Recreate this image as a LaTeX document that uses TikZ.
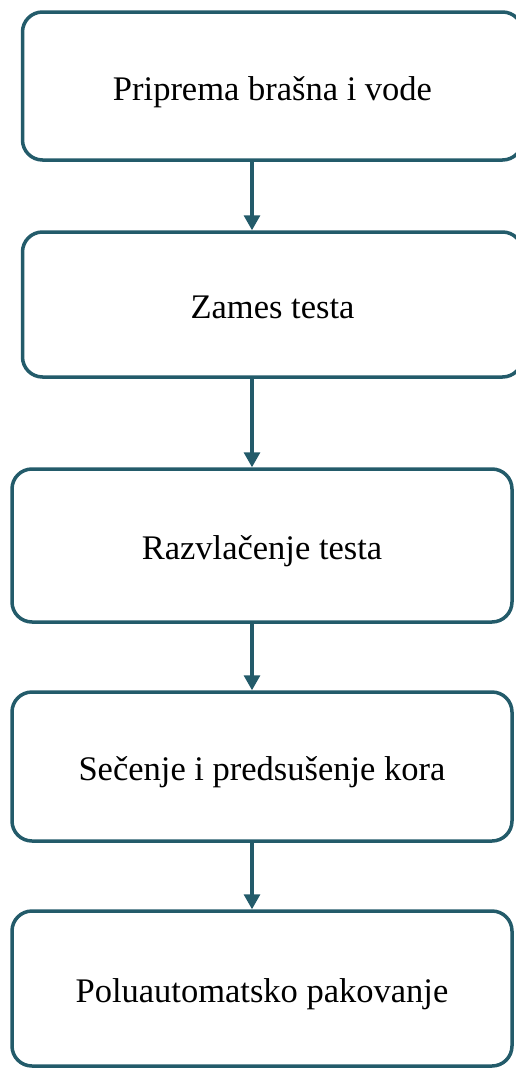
\documentclass[tikz,border=0pt]{standalone}
\usepackage{fontspec}
\setmainfont{Liberation Serif}
\usetikzlibrary{positioning,arrows.meta}
\definecolor{frame}{HTML}{235B6A}

\begin{document}
\begin{tikzpicture}[
    x=1pt, y=-1pt,
    stepbox/.style = {rectangle, rounded corners=20pt, draw=frame, line width=3.5pt, fill=white,
        minimum width=500pt, font=\fontsize{34.5}{40}\selectfont, text=black,
        text height=36pt, text depth=8pt},
    flow/.style = {draw=frame, line width=3.3pt, -{Triangle[width=16pt, length=15pt]}},
]
    \useasboundingbox (0,0) rectangle (516,1068);

    % steps
    \node[stepbox, minimum height=148pt] (prep) at (272.5,86) {Priprema brašna i vode};
    \node[stepbox, minimum height=145pt] (zames) at (272.5,304.5) {Zames testa};
    \node[stepbox, minimum height=153pt] (razv) at (262,545.5) {Razvlačenje testa};
    \node[stepbox, minimum height=149pt] (sec) at (262,766.5) {Sečenje i predsušenje kora};
    \node[stepbox, minimum height=155pt] (pak) at (262,988.5) {Poluautomatsko pakovanje};

    % arrow line
    \coordinate (axis) at (252,0);

    % flows
    \draw[flow] (prep.south -| axis) -- (zames.north -| axis);
    \draw[flow] (zames.south -| axis) -- (razv.north -| axis);
    \draw[flow] (razv.south -| axis) -- (sec.north -| axis);
    \draw[flow] (sec.south -| axis) -- (pak.north -| axis);

\end{tikzpicture}
\end{document}
